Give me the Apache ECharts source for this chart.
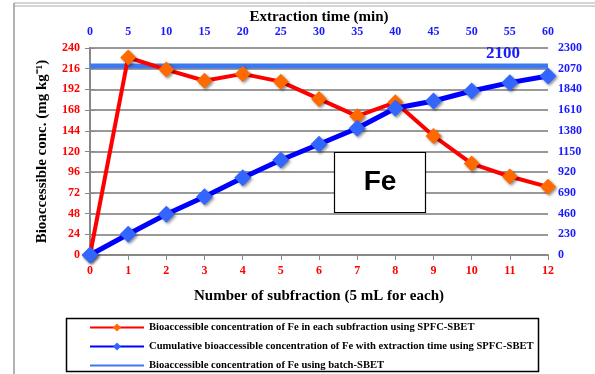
<!DOCTYPE html>
<html><head><meta charset="utf-8">
<script src="https://cdn.jsdelivr.net/npm/echarts@6/dist/echarts.min.js"></script>
<style>html,body{margin:0;padding:0;background:#fff}#c{width:595px;height:374px}</style>
</head><body><div id="c"></div>
<script>
var subfractions = [0,1,2,3,4,5,6,7,8,9,10,11,12];
var timeTicks = [0,5,10,15,20,25,30,35,40,45,50,55,60];
var subConc = [0,229,215,202,210,201,181,161,177,138,106,91,79];
var cumConc = [0,230,452,648,859,1056,1230,1408,1630,1711,1822,1915,1989];
var batchValue = 2100;
var legendNames = [
  'Bioaccessible concentration of Fe in each subfraction using SPFC-SBET',
  'Cumulative bioaccessible concentration of Fe with extraction time using SPFC-SBET',
  'Bioaccessible concentration of Fe using batch-SBET'
];

var serif = 'Liberation Serif';
var chart = echarts.init(document.getElementById('c'));
var shadow = {shadowBlur:3, shadowColor:'rgba(0,0,0,0.45)', shadowOffsetX:1.5, shadowOffsetY:1.5};
chart.setOption({
  animation:false,
  grid:{left:90, right:47, top:48, bottom:119},
  legend:{
    orient:'vertical', left:89, top:322, padding:0, height:52, itemGap:8, itemWidth:54, itemHeight:10,
    textStyle:{fontFamily:serif, fontWeight:'bold', fontSize:10.6, color:'#000'},
    data:[
      {name:legendNames[0]},
      {name:legendNames[1]},
      {name:legendNames[2], icon:'path://M0,4 L54,4 L54,6 L0,6 Z'}
    ]
  },
  xAxis:[{
    type:'value', min:0, max:12, interval:1, position:'bottom',
    axisLine:{show:true, lineStyle:{color:'#888', width:2}},
    axisTick:{show:true, lineStyle:{color:'#888'}},
    splitLine:{show:false},
    axisLabel:{color:'#ff0000', fontFamily:serif, fontWeight:'bold', fontSize:12, margin:10,
      formatter:function(v){return subfractions.indexOf(v)>=0?String(v):'';}},
    name:'Number of subfraction (5 mL for each)', nameLocation:'middle', nameGap:34,
    nameTextStyle:{color:'#000', fontFamily:serif, fontWeight:'bold', fontSize:15}
  },{
    type:'value', min:0, max:60, interval:5, position:'top',
    axisLine:{show:false}, axisTick:{show:false}, splitLine:{show:false},
    axisLabel:{color:'#1a1aff', fontFamily:serif, fontWeight:'bold', fontSize:12, margin:10,
      formatter:function(v){return timeTicks.indexOf(v)>=0?String(v):'';}},
    name:'Extraction time (min)', nameLocation:'middle', nameGap:23, nameMoveOverlap:false,
    nameTextStyle:{color:'#000', fontFamily:serif, fontWeight:'bold', fontSize:15}
  }],
  yAxis:[{
    type:'value', min:0, max:240, interval:24, position:'left',
    axisLine:{show:true, lineStyle:{color:'#888', width:2}},
    axisTick:{show:true, lineStyle:{color:'#888'}},
    splitLine:{show:true, lineStyle:{color:'#999', width:2}},
    axisLabel:{color:'#ff0000', fontFamily:serif, fontWeight:'bold', fontSize:12, margin:10},
    name:'Bioaccessible conc. (mg kg\u207B\u00B9)', nameLocation:'middle', nameGap:40, nameRotate:90,
    nameTextStyle:{color:'#000', fontFamily:serif, fontWeight:'bold', fontSize:15}
  },{
    type:'value', min:0, max:2300, interval:230, position:'right',
    axisLine:{show:true, lineStyle:{color:'#888', width:2}},
    axisTick:{show:true, lineStyle:{color:'#888'}},
    splitLine:{show:false},
    axisLabel:{color:'#1a1aff', fontFamily:serif, fontWeight:'bold', fontSize:12, margin:10,
      formatter:function(v){return String(v);}}
  }],
  series:[{
    name:legendNames[0], type:'line', xAxisIndex:0, yAxisIndex:0,
    data:subfractions.map(function(x,i){return [x, subConc[i]];}),
    lineStyle:{color:'#ff0000', width:4},
    itemStyle:Object.assign({color:'#ff6a00'}, shadow),
    symbol:'diamond', symbolSize:16, z:3
  },{
    name:legendNames[1], type:'line', xAxisIndex:0, yAxisIndex:1,
    data:subfractions.map(function(x,i){return [x, cumConc[i]];}),
    lineStyle:{color:'#0000ff', width:5},
    itemStyle:Object.assign({color:'#3366ff'}, shadow),
    symbol:'diamond', symbolSize:17, z:4
  },{
    name:legendNames[2], type:'line', xAxisIndex:0, yAxisIndex:1,
    data:[[subfractions[0], batchValue],[subfractions[subfractions.length-1], batchValue]],
    lineStyle:{color:'#3c78f0', width:5},
    itemStyle:{color:'#3c78f0'},
    symbol:'none', showSymbol:false, z:2,
    endLabel:{show:true, formatter:String(batchValue), offset:[-70,-12],
      color:'#1a1aff', fontFamily:serif, fontWeight:'bold', fontSize:17}
  }],
  graphic:[
    {type:'rect', shape:{x:66.5, y:318.5, width:472, height:53}, style:{fill:'none', stroke:'#000', lineWidth:1.5}, z:1},
    {type:'rect', shape:{x:334.5, y:152.5, width:91, height:60}, style:{fill:'#fff', stroke:'#000', lineWidth:1.2}, z:10},
    {type:'text', x:380, y:182, style:{text:'Fe', font:'bold 28px "Liberation Sans"', fill:'#000', align:'center', verticalAlign:'middle'}, z:11},
    {type:'line', shape:{x1:14, y1:3, x2:595, y2:3}, style:{stroke:'#aaa', lineWidth:1}},
    {type:'line', shape:{x1:14, y1:6, x2:595, y2:6}, style:{stroke:'#aaa', lineWidth:1}},
    {type:'line', shape:{x1:14, y1:3, x2:14, y2:374}, style:{stroke:'#999', lineWidth:1.5}}
  ]
});
</script></body></html>
